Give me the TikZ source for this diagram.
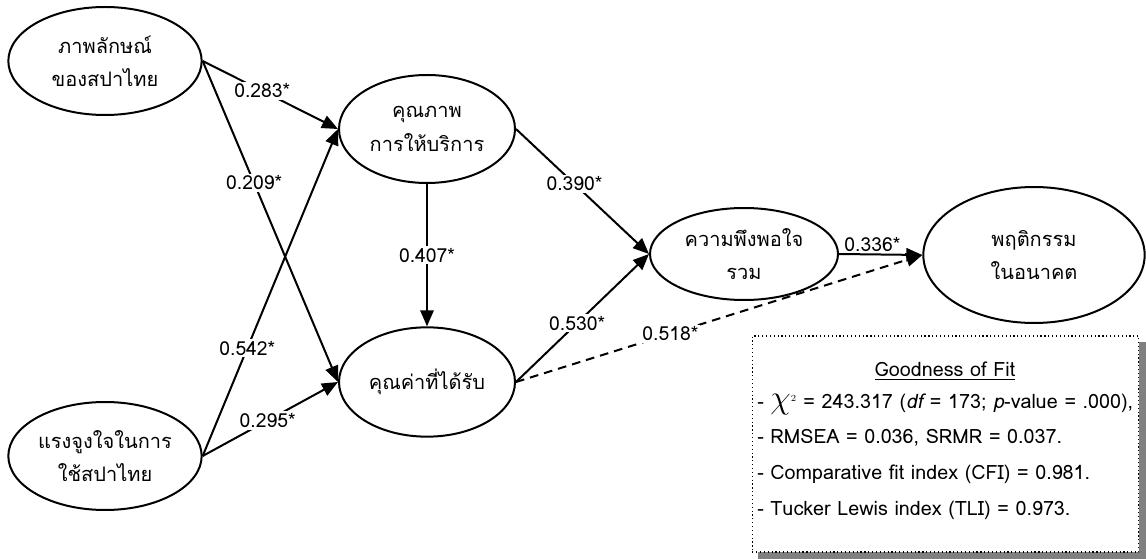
\documentclass[tikz,border=0pt]{standalone}
\usepackage{fontspec}
\setmainfont[Script=Thai,AutoFakeSlant=0.2]{Loma}
\usepackage{tikz}
\usetikzlibrary{shapes.geometric}
\usetikzlibrary{arrows.meta}

\definecolor{boxshadow}{RGB}{128,128,128}

\tikzset{
  latent/.style={ellipse, draw, line width=1.5pt, align=center, inner sep=0pt,
                 font=\fontsize{15}{25}\selectfont},
  link/.style={line width=1.5pt, -{Triangle[length=12pt,width=10pt]}},
  coef/.style={fill=white, inner sep=1.5pt, font=\fontsize{14.5}{16}\selectfont},
  fitline/.style={anchor=west, inner sep=0pt, font=\fontsize{14.8}{16}\selectfont},
}

\begin{document}
\begin{tikzpicture}[x=0.75pt,y=0.75pt,yscale=-1,xscale=1]
  \useasboundingbox (0,0) rectangle (1146,559);
  % latent variables
  \node[latent, minimum width=145pt, minimum height=81pt] (image)   at (105,61)   {ภาพลักษณ์\\ของสปาไทย};
  \node[latent, minimum width=145pt, minimum height=81pt] (motive)  at (105,456)  {แรงจูงใจในการ\\ใช้สปาไทย};
  \node[latent, minimum width=132pt, minimum height=81pt] (quality) at (427,129)  {คุณภาพ\\การให้บริการ};
  \node[latent, minimum width=132pt, minimum height=82pt] (value)   at (427,382)  {คุณค่าที่ได้รับ};
  \node[latent, minimum width=141pt, minimum height=69pt] (satis)   at (744,254)  {ความพึงพอใจ\\รวม};
  \node[latent, minimum width=166pt, minimum height=102pt] (behav)  at (1034,255) {พฤติกรรม\\ในอนาคต};
  % paths
  \draw[link] (image.east)  -- node[coef, pos=0.44] {0.283*} (quality.west);
  \draw[link] (image.east)  -- node[coef, pos=0.38] {0.209*} (value.west);
  \draw[link] (motive.east) -- node[coef, pos=0.33] {0.542*} (quality.west);
  \draw[link] (motive.east) -- node[coef, pos=0.48] {0.295*} (value.west);
  \draw[link] (quality.south) -- node[coef] {0.407*} (value.north);
  \draw[link] (quality.east) -- node[coef, pos=0.44] {0.390*} (satis.west);
  \draw[link] (value.east)  -- node[coef, pos=0.46] {0.530*} (satis.west);
  \draw[link] (satis.east)  -- node[coef, fill=none, above, pos=0.4] {0.336*} (behav.west);
  \draw[link, dash pattern=on 6.5pt off 4.5pt] (value.east) -- node[coef, pos=0.38] {0.518*} (behav.west);
  % goodness of fit
  \fill[boxshadow] (758,342) rectangle (1146,559);
  \node[draw, dotted, line width=0.9pt, fill=white, minimum width=290pt, minimum height=162pt]
        (fitbox) at (945.5,444) {};
  \node[fitline, anchor=center] (gof) at (945,371) {\underline{Goodness of Fit}};
  \node[fitline] (chisq) at (757,404) {- {\fontsize{24}{24}\selectfont$\chi$}$^{\scriptscriptstyle 2}$ = 243.317 (\textit{df} = 173; \textit{p}-value = .000),};
  \node[fitline] (rmsea) at (757,438) {- RMSEA = 0.036, SRMR = 0.037.};
  \node[fitline] (cfi)   at (757,474) {- Comparative fit index (CFI) = 0.981.};
  \node[fitline] (tli)   at (757,510) {- Tucker Lewis index (TLI) = 0.973.};
\end{tikzpicture}
\end{document}
